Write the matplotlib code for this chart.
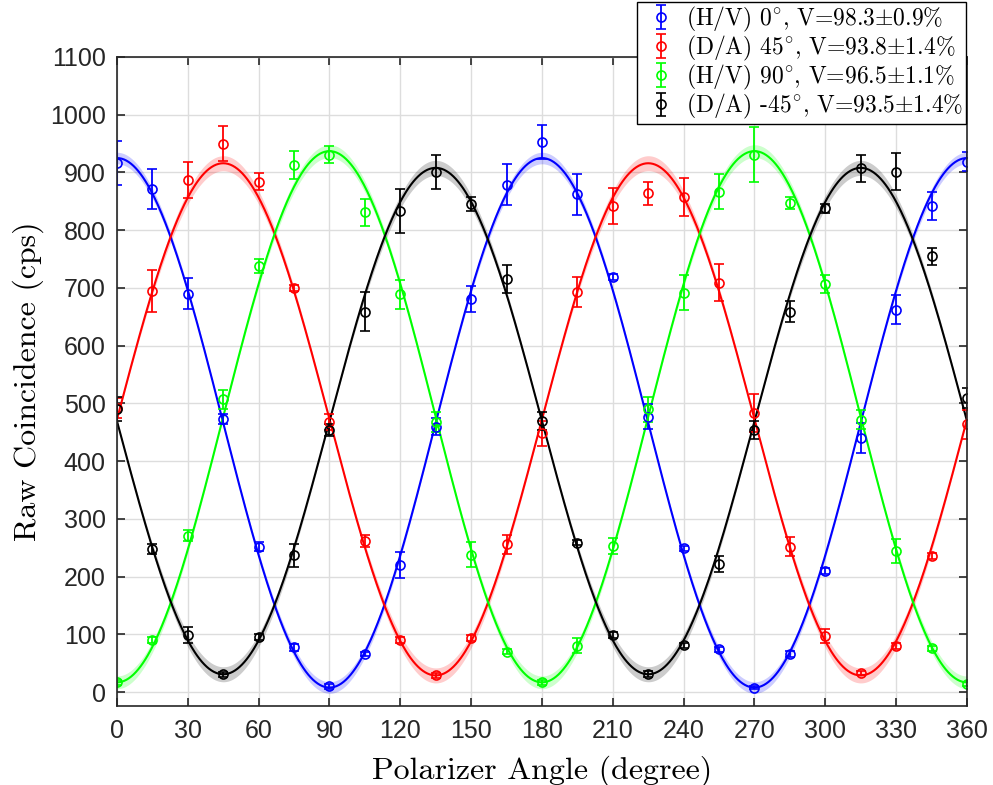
import numpy as np
import matplotlib
matplotlib.use('Agg')
import matplotlib.pyplot as plt

# measured data: polarizer angle (deg) and raw coincidence counts (cps)
angle = np.arange(0, 361, 15)

hv0_counts = [916, 871, 690, 473, 252, 78, 10, 66, 220, 460, 681, 879, 953,
              862, 719, 477, 249, 74, 8, 66, 210, 441, 662, 842, 919]
hv0_err    = [38, 35, 27, 8, 8, 6, 4, 4, 22, 15, 22, 36, 30,
              36, 5, 22, 5, 5, 3, 5, 5, 26, 25, 24, 16]

da45_counts = [492, 695, 887, 950, 884, 700, 468, 262, 90, 29, 94, 256, 448,
               693, 842, 864, 858, 709, 484, 252, 98, 33, 80, 236, 464]
da45_err    = [18, 36, 32, 30, 15, 5, 14, 11, 5, 4, 5, 17, 21,
               26, 31, 20, 33, 32, 33, 16, 12, 4, 5, 5, 25]

hv90_counts = [17, 91, 271, 507, 738, 913, 931, 831, 689, 468, 238, 70, 17,
               80, 253, 490, 692, 867, 931, 847, 707, 472, 245, 76, 14]
hv90_err    = [4, 5, 10, 16, 12, 24, 14, 23, 25, 18, 22, 4, 4,
               13, 14, 22, 31, 30, 48, 11, 15, 17, 21, 4, 4]

dam45_counts = [491, 248, 99, 31, 96, 237, 454, 659, 833, 901, 845, 715, 470,
                259, 99, 32, 81, 222, 454, 659, 838, 907, 901, 755, 509]
dam45_err    = [21, 8, 13, 4, 5, 20, 10, 34, 38, 29, 12, 24, 16,
                4, 5, 5, 5, 14, 16, 18, 8, 23, 32, 15, 17]

# fit results: offset, amplitude, phase (deg), band half width
fit_offset = [8, 29, 17, 31]
fit_amp    = [917, 887, 920, 877]
fit_phase  = [0, 45, 90, 135]
fit_band   = [9, 12, 10, 12]

labels = [r'(H/V) 0$^{\circ}$, V=98.3$\pm$0.9%',
          r'(D/A) 45$^{\circ}$, V=93.8$\pm$1.4%',
          r'(H/V) 90$^{\circ}$, V=96.5$\pm$1.1%',
          r'(D/A) -45$^{\circ}$, V=93.5$\pm$1.4%']
colors = ['#0000ff', '#ff0000', '#00ff00', '#000000']

counts = [hv0_counts, da45_counts, hv90_counts, dam45_counts]
errs = [hv0_err, da45_err, hv90_err, dam45_err]

plt.rcParams['mathtext.fontset'] = 'cm'
plt.rcParams['font.family'] = ['Liberation Sans', 'DejaVu Sans']
plt.rcParams['axes.unicode_minus'] = False

fig = plt.figure(figsize=(9.93, 7.85), dpi=100)
ax = fig.add_axes([0.1178, 0.1006, 0.856, 0.8268])

theta = np.linspace(0, 360, 721)
for i in range(4):
    c = np.cos(np.radians(theta - fit_phase[i]))
    fit = fit_offset[i] + fit_amp[i] * c**2
    band = fit_band[i] * np.abs(2 * c**2 - 1) + 1
    ax.fill_between(theta, fit - band, fit + band, color=colors[i], alpha=0.2, lw=0)
    ax.plot(theta, fit, color=colors[i], lw=1.5)

handles = []
for i in range(4):
    h = ax.errorbar(angle, counts[i], yerr=errs[i], fmt='o', color=colors[i],
                    mfc='none', ms=6.5, mew=1.2, elinewidth=1.3, capsize=3.5,
                    capthick=1.3, label=labels[i])
    handles.append(h)

ax.set_xlim(0, 360)
ax.set_ylim(-24, 1100)
ax.set_xticks(np.arange(0, 361, 30))
ax.set_yticks(np.arange(0, 1101, 100))
ax.grid(True, color='#dddddd', lw=1)
ax.set_axisbelow(True)
ax.tick_params(direction='in', length=6, width=1.2, labelsize=18,
               colors='#262626', top=True, right=True)
ax.tick_params(axis='x', pad=9)
ax.tick_params(axis='y', pad=8)
for s in ax.spines.values():
    s.set_color('#262626')
    s.set_linewidth(1.2)

ax.set_xlabel('Polarizer Angle (degree)', family='cmr10', fontsize=23, labelpad=9)
ax.set_ylabel('Raw Coincidence (cps)', family='cmr10', fontsize=23, labelpad=4)

leg = fig.legend(handles=handles, loc='upper right',
                 bbox_to_anchor=(966 / 993, 783 / 785), borderaxespad=0,
                 fancybox=False, framealpha=1, edgecolor='black',
                 prop={'family': 'cmr10', 'size': 17}, handlelength=1.8,
                 handletextpad=0.15, labelspacing=0.0, borderpad=0.12)
leg.get_frame().set_linewidth(1.0)

plt.savefig('out.png', dpi=100)
